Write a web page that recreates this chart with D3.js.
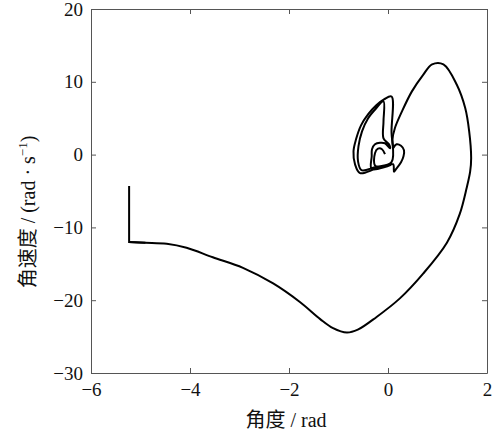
<!DOCTYPE html>
<html>
<head>
<meta charset="utf-8">
<script src="https://cdn.jsdelivr.net/npm/d3@7"></script>
<style>
  body { margin: 0; background: #fff; }
  text { font-family: "Liberation Serif", "Noto Sans CJK SC", serif; }
</style>
</head>
<body>
<svg id="chart" width="500" height="434"></svg>
<script>
// phase trajectory, main sweep (angle rad, angular velocity rad/s)
var mainAngle = [-5.23, -5.23, -4.9, -4.47, -4.07, -3.54, -2.93, -2.32, -1.78, -1.37, -1.11, -0.83, -0.61, -0.23, 0.24, 0.71, 1.19, 1.45, 1.59, 1.66, 1.68, 1.64, 1.56, 1.39, 1.12, 0.89, 0.71, 0.48, 0.28, 0.14, 0.09, 0.107];
var mainRate  = [-4.3, -12.0, -12.1, -12.25, -12.8, -14.1, -15.55, -17.7, -20.25, -22.6, -23.85, -24.45, -24.05, -22.3, -19.75, -16.35, -12.1, -8.15, -4.55, -2.3, -0.45, 3.2, 6.4, 9.6, 12.4, 12.4, 10.95, 8.65, 5.9, 3.65, 2.05, 0.92];

// small loops near the origin
var loopAngle = [0.107, 0.172, 0.263, 0.323, 0.313, 0.263, 0.162, 0.121, 0.101, -0.242, -0.566, -0.667, -0.697, -0.646, -0.545, -0.404, -0.242, -0.081, 0.071, 0.071, 0.071, -0.263, -0.535, -0.606, -0.596, -0.525, -0.404, -0.242, -0.091, -0.091, -0.091, 0.02, 0.04, -0.061, -0.162, -0.263, -0.323, -0.329, -0.329, 0.081, -0.253, -0.263, -0.202, -0.121, -0.061];
var loopRate  = [0.92, 1.42, 1.22, 0.6, -0.22, -1.04, -1.99, -2.34, -1.31, -1.93, -2.54, -1.31, 0.46, 2.1, 4.02, 5.52, 6.75, 7.57, 7.98, 3.2, -1.04, -1.72, -2.13, -0.9, 1.15, 3.2, 4.97, 6.34, 7.3, 4.56, 2.24, 1.42, 0.87, 1.56, 1.63, 1.42, 0.74, -0.22, -1.99, -1.31, -1.58, 0.19, 0.81, 0.74, 0.05];

var xTicks = [-6, -4, -2, 0, 2];
var yTicks = [-30, -20, -10, 0, 10, 20];

var width = 500, height = 434;
var margin = {top: 9, right: 13, bottom: 61, left: 91};

var svg = d3.select("#chart");

var x = d3.scaleLinear().domain([-6, 2]).range([margin.left, width - margin.right]);
var y = d3.scaleLinear().domain([-30, 20]).range([height - margin.bottom, margin.top]);

var fmt = function (d) { return d < 0 ? "\u2212" + Math.abs(d) : String(d); };

// axes, ticks inward on all sides
svg.append("g")
  .attr("class", "axis")
  .attr("transform", "translate(0," + (height - margin.bottom) + ")")
  .call(d3.axisBottom(x).tickValues(xTicks).tickSizeInner(-5).tickSizeOuter(0).tickPadding(10).tickFormat(fmt));

svg.append("g")
  .attr("class", "axis")
  .attr("transform", "translate(0," + margin.top + ")")
  .call(d3.axisTop(x).tickValues(xTicks).tickSizeInner(-5).tickSizeOuter(0).tickFormat(""));

svg.append("g")
  .attr("class", "axis")
  .attr("transform", "translate(" + margin.left + ",0)")
  .call(d3.axisLeft(y).tickValues(yTicks).tickSizeInner(-5).tickSizeOuter(0).tickPadding(8).tickFormat(fmt));

svg.append("g")
  .attr("class", "axis")
  .attr("transform", "translate(" + (width - margin.right) + ",0)")
  .call(d3.axisRight(y).tickValues(yTicks).tickSizeInner(-5).tickSizeOuter(0).tickFormat(""));

svg.selectAll(".axis path, .axis line")
  .attr("stroke", "#555")
  .attr("stroke-width", 1);

svg.selectAll(".axis text")
  .attr("fill", "#111")
  .style("font-size", "19px")
  .style("font-family", "'Liberation Serif', serif");

// trajectory
var mainPts = mainAngle.map(function (a, i) { return [a, mainRate[i]]; });
var loopPts = loopAngle.map(function (a, i) { return [a, loopRate[i]]; });

var straight = d3.line()
  .x(function (d) { return x(d[0]); })
  .y(function (d) { return y(d[1]); });

var smooth = d3.line()
  .x(function (d) { return x(d[0]); })
  .y(function (d) { return y(d[1]); })
  .curve(d3.curveCatmullRom.alpha(0.5));

// vertical drop at the start is a straight segment
svg.append("path")
  .datum(mainPts.slice(0, 3))
  .attr("d", straight)
  .attr("fill", "none")
  .attr("stroke", "#000")
  .attr("stroke-width", 2)
  .attr("stroke-linejoin", "miter");

svg.append("path")
  .datum(mainPts.slice(1))
  .attr("d", smooth)
  .attr("fill", "none")
  .attr("stroke", "#000")
  .attr("stroke-width", 2)
  .attr("stroke-linejoin", "round");

svg.append("path")
  .datum(loopPts)
  .attr("d", smooth)
  .attr("fill", "none")
  .attr("stroke", "#000")
  .attr("stroke-width", 2)
  .attr("stroke-linejoin", "round");

// axis titles
svg.append("text")
  .attr("x", 286)
  .attr("y", 427)
  .attr("text-anchor", "middle")
  .style("font-size", "20px")
  .attr("fill", "#111")
  .text("角度 / rad");

var yTitle = svg.append("text")
  .attr("transform", "translate(35,212) rotate(-90)")
  .attr("text-anchor", "middle")
  .style("font-size", "20px")
  .attr("fill", "#111");
yTitle.append("tspan").text("角速度 / (rad · s");
yTitle.append("tspan").attr("dy", -8).style("font-size", "13px").text("\u22121");
yTitle.append("tspan").attr("dy", 8).text(")");
</script>
</body>
</html>
